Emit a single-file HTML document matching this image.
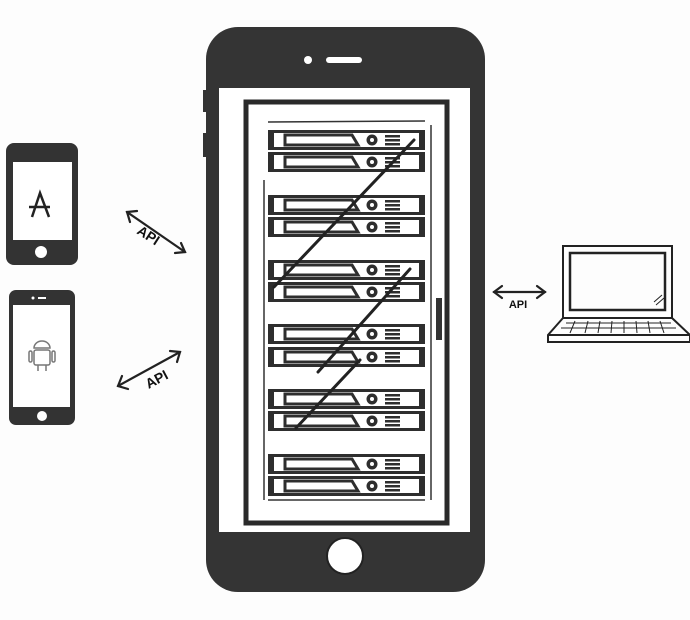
<!DOCTYPE html>
<html><head><style>html,body{margin:0;padding:0;background:#fff;}svg{display:block}</style></head>
<body>
<svg width="690" height="620" viewBox="0 0 690 620" xmlns="http://www.w3.org/2000/svg" font-family="Liberation Sans, sans-serif">
<rect width="690" height="620" fill="#fdfdfd"/>
<!-- main phone -->
<rect x="203" y="90" width="5" height="22" fill="#333"/>
<rect x="203" y="133" width="5" height="24" fill="#333"/>
<rect x="206" y="27" width="279" height="565" rx="32" fill="#343434"/>
<rect x="219" y="88" width="251" height="444" fill="#fff"/>
<circle cx="308" cy="60" r="4" fill="#fff"/>
<rect x="326" y="57" width="36" height="6" rx="3" fill="#fff"/>
<circle cx="345" cy="556" r="18" fill="#fff" stroke="#222" stroke-width="2"/>
<!-- rack -->
<rect x="246" y="102" width="201" height="421" fill="none" stroke="#2a2a2a" stroke-width="5"/>
<line x1="268" y1="122" x2="425" y2="121" stroke="#333" stroke-width="1.5"/>
<line x1="264" y1="180" x2="264" y2="500" stroke="#333" stroke-width="1.5"/>
<line x1="431" y1="125" x2="431" y2="500" stroke="#333" stroke-width="1.5"/>
<rect x="436" y="298" width="6" height="42" fill="#333"/>
<g id="u">
<rect x="268" y="130" width="157" height="20" fill="#2e2e2e"/>
<rect x="274" y="133" width="145" height="14" fill="#fff"/>
<path d="M285 135 H352 L358 145 H285 Z" fill="#fff" stroke="#2e2e2e" stroke-width="3"/>
<circle cx="372" cy="140" r="5.5" fill="#2e2e2e"/><circle cx="372" cy="140" r="2" fill="#fff"/>
<g fill="#2e2e2e"><rect x="385" y="135" width="15" height="2.5"/><rect x="385" y="139" width="15" height="2.5"/><rect x="385" y="143" width="15" height="2.5"/></g>
</g>
<use href="#u" y="22"/>
<use href="#u" y="65"/><use href="#u" y="87"/>
<use href="#u" y="130"/><use href="#u" y="152"/>
<use href="#u" y="194"/><use href="#u" y="217"/>
<use href="#u" y="259"/><use href="#u" y="281"/>
<use href="#u" y="324"/><use href="#u" y="346"/>
<line x1="268" y1="500" x2="425" y2="500" stroke="#333" stroke-width="1.5"/>
<g stroke="#222" stroke-width="3" stroke-linecap="round">
<line x1="414" y1="140" x2="274" y2="287"/>
<line x1="410" y1="269" x2="318" y2="372"/>
<line x1="360" y1="360" x2="296" y2="428"/>
</g>
<!-- iphone small -->
<rect x="6" y="143" width="72" height="122" rx="8" fill="#333"/>
<rect x="13" y="162" width="59" height="78" fill="#fff"/>
<circle cx="41" cy="252" r="6" fill="#fff"/>
<g stroke="#222" stroke-width="2.5" fill="none"><path d="M32 217 L40 193 L49 217"/><line x1="29" y1="207" x2="50" y2="207"/></g>
<!-- android phone -->
<rect x="9" y="290" width="66" height="135" rx="7" fill="#333"/>
<rect x="13" y="305" width="57" height="102" fill="#fff"/>
<circle cx="33" cy="298" r="1.5" fill="#fff"/><rect x="38" y="297" width="8" height="2" fill="#fff"/>
<circle cx="42" cy="416" r="5" fill="#fff"/>
<g stroke="#777" stroke-width="1.5" fill="none">
<path d="M34 348 a8 7 0 0 1 16 0 Z"/><rect x="34" y="350" width="16" height="15" rx="2"/>
<rect x="29" y="351" width="3" height="11" rx="1.5"/><rect x="52" y="351" width="3" height="11" rx="1.5"/>
<line x1="38" y1="365" x2="38" y2="371"/><line x1="46" y1="365" x2="46" y2="371"/></g>
<!-- arrows -->
<g stroke="#222" stroke-width="2.2" fill="none" stroke-linecap="round">
<line x1="127" y1="212" x2="185" y2="252"/><path d="M137 211 L127 212 L130 222"/><path d="M175 253 L185 252 L181 243"/>
<line x1="118" y1="386" x2="180" y2="352"/><path d="M122 376 L118 386 L128 389"/><path d="M170 351 L180 352 L177 362"/>
<line x1="494" y1="292" x2="545" y2="292"/><path d="M502 286 L494 292 L502 298"/><path d="M537 286 L545 292 L537 298"/>
</g>
<text x="148" y="240" font-size="14" font-weight="bold" fill="#111" transform="rotate(33 148 236)" text-anchor="middle">API</text>
<text x="157" y="384" font-size="14" font-weight="bold" fill="#111" transform="rotate(-28 157 380)" text-anchor="middle">API</text>
<text x="518" y="308" font-size="11" font-weight="bold" fill="#111" text-anchor="middle">API</text>
<!-- laptop -->
<g stroke="#222" fill="none" stroke-width="2">
<rect x="563" y="246" width="109" height="72"/>
<rect x="570" y="253" width="95" height="57" stroke-width="2.5"/>
<path d="M563 318 L548 335 L548 342 L690 342 L690 335 L672 318"/>
<line x1="548" y1="335" x2="690" y2="335"/>
<path d="M566 323 H671 M561 328 H676" stroke-width="1"/>
<path d="M575 321 L570 333 M588 321 L585 333 M600 321 L598 333 M612 321 L611 333 M624 321 L624 333 M636 321 L637 333 M648 321 L650 333 M660 321 L664 333" stroke-width="1"/>
<path d="M654 302 L662 295 M656 305 L664 298" stroke-width="1"/>
</g>
</svg>
</body></html>
